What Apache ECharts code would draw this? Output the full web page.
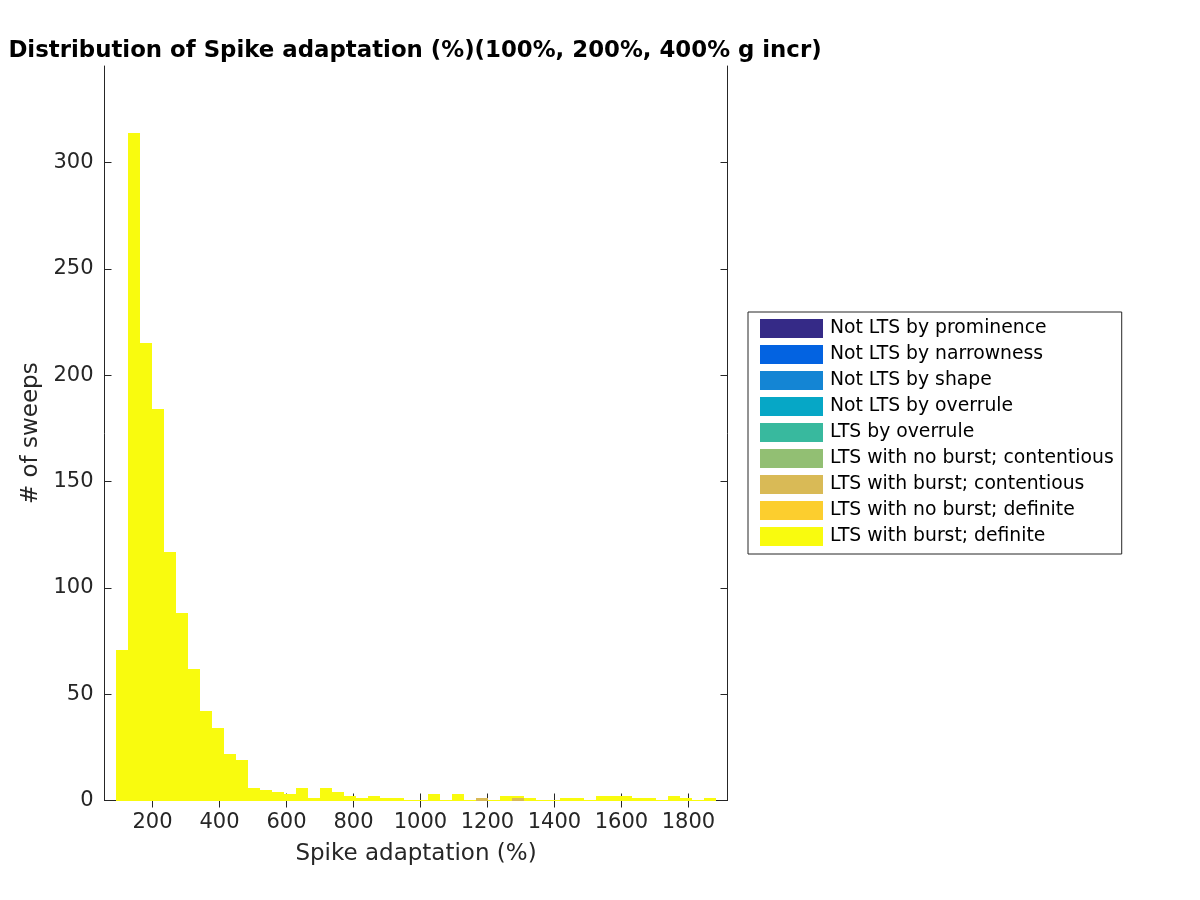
<!DOCTYPE html>
<html><head><meta charset="utf-8">
<script src="https://cdn.jsdelivr.net/npm/echarts@6/dist/echarts.min.js"></script>
<style>html,body{margin:0;padding:0;background:#fff}#c{width:1200px;height:900px}</style>
</head><body><div id="c"></div>
<script>
const categories = [
  'Not LTS by prominence',
  'Not LTS by narrowness',
  'Not LTS by shape',
  'Not LTS by overrule',
  'LTS by overrule',
  'LTS with no burst; contentious',
  'LTS with burst; contentious',
  'LTS with no burst; definite',
  'LTS with burst; definite'
];
const colors = ['#352a87','#0363e1','#1485d4','#06a7c6','#38b99e','#92bf73','#d9ba56','#fcce2e','#f9fb0e'];

// histogram bins (Spike adaptation %)
const binFirstEdge = 90.3;
const binWidth = 35.85;
const countsBurstDefinite = [71,314,215,184,117,88,62,42,34,22,19,6,5,4,3,6,1,6,4,2,1,2,1,1,0,0,3,0,3,0,0,0,2,1,1,0,0,1,1,0,2,2,2,1,1,0,2,1,0,1];
const countsBurstContentious = [0,0,0,0,0,0,0,0,0,0,0,0,0,0,0,0,0,0,0,0,0,0,0,0,0,0,0,0,0,0,1,0,0,1,0,0,0,0,0,0,0,0,0,0,0,0,0,0,0,0];
const xTicks = [200,400,600,800,1000,1200,1400,1600,1800];
const yTicks = [0,50,100,150,200,250,300];
const xMin = 56.6, xMax = 1916.8, yMax = 345.4;

const nBins = countsBurstDefinite.length;
const zeros = new Array(nBins).fill(0);
const countsByCat = categories.map((c, i) => {
  if (i === 6) return countsBurstContentious;
  if (i === 8) return countsBurstDefinite;
  return zeros;
});

const FONT = 'DejaVu Sans';
const AX = '#262626';
const totals = zeros.map((_, b) => countsByCat.reduce((s, arr) => s + arr[b], 0));

const series = categories.map((name, i) => {
  const data = [];
  for (let b = 0; b < nBins; b++) {
    let base = 0;
    for (let j = 0; j < i; j++) base += countsByCat[j][b];
    const lo = binFirstEdge + b * binWidth;
    data.push([lo, lo + binWidth, base, base + countsByCat[i][b], totals[b]]);
  }
  const isLast = i === categories.length - 1;
  return {
    name, type: 'custom', xAxisIndex: 0, yAxisIndex: 0,
    itemStyle: { color: colors[i] },
    data,
    renderItem: function (params, api) {
      const lo = api.value(0), hi = api.value(1), base = api.value(2), top = api.value(3), tot = api.value(4);
      if (top === base && !(isLast && tot === 0)) return null;
      const p0 = api.coord([lo, base]);
      const p1 = api.coord([hi, top]);
      const x0 = Math.round(p0[0]), x1 = Math.round(p1[0]);
      const yb = base === 0 ? Math.floor(p0[1]) + 1 : Math.round(p0[1]);
      let yt = Math.round(p1[1]);
      if (yt >= yb) yt = yb - 1;
      return {
        type: 'rect',
        shape: { x: x0, y: yt, width: x1 - x0, height: yb - yt },
        style: { fill: colors[i] }
      };
    }
  };
});

const plain = v => String(Math.round(v));

const chart = echarts.init(document.getElementById('c'), null, { renderer: 'canvas' });
chart.setOption({
  animation: false,
  backgroundColor: '#fff',
  title: {
    text: 'Distribution of Spike adaptation (%)(100%, 200%, 400% g incr)',
    left: 410, textAlign: 'center', top: 35,
    textStyle: { fontFamily: FONT, fontSize: 22.85, fontWeight: 'bold', color: '#000' }
  },
  grid: { left: 104.5, right: 472.5, top: 66, bottom: 99.5, containLabel: false },
  legend: {
    orient: 'vertical', left: 748, top: 312,
    padding: [7, 8, 8, 12],
    itemWidth: 63, itemHeight: 19, itemGap: 7,
    icon: 'rect',
    borderColor: AX, borderWidth: 1, borderRadius: 0,
    textStyle: { fontFamily: FONT, fontSize: 18.8, color: '#000', padding: [0, 0, 0, 2] },
    data: categories
  },
  xAxis: [{
    type: 'value', min: xMin, max: xMax, position: 'bottom',
    name: 'Spike adaptation (%)', nameLocation: 'middle', nameGap: 42,
    nameTextStyle: { fontFamily: FONT, fontSize: 23, color: AX },
    axisLine: { show: true, lineStyle: { color: AX, width: 1 } },
    axisTick: { show: true, inside: true, length: 7, customValues: xTicks, lineStyle: { color: AX } },
    axisLabel: { customValues: xTicks, formatter: plain, fontFamily: FONT, fontSize: 21, color: AX, margin: 12 },
    splitLine: { show: false }
  }, {
    type: 'value', min: xMin, max: xMax, position: 'top',
    axisLine: { show: true, lineStyle: { color: AX, width: 1 } },
    axisTick: { show: true, inside: true, length: 7, customValues: xTicks, lineStyle: { color: AX } },
    axisLabel: { show: false },
    splitLine: { show: false }
  }],
  yAxis: [{
    type: 'value', min: 0, max: yMax, position: 'left',
    name: '# of sweeps', nameLocation: 'middle', nameGap: 51,
    nameTextStyle: { fontFamily: FONT, fontSize: 23, color: AX },
    axisLine: { show: true, lineStyle: { color: AX, width: 1 } },
    axisTick: { show: true, inside: true, length: 7, customValues: yTicks, lineStyle: { color: AX } },
    axisLabel: { customValues: yTicks, formatter: plain, fontFamily: FONT, fontSize: 21, color: AX, margin: 11 },
    splitLine: { show: false }
  }, {
    type: 'value', min: 0, max: yMax, position: 'right',
    axisLine: { show: true, lineStyle: { color: AX, width: 1 } },
    axisTick: { show: true, inside: true, length: 7, customValues: yTicks, lineStyle: { color: AX } },
    axisLabel: { show: false },
    splitLine: { show: false }
  }],
  series
});
</script></body></html>
